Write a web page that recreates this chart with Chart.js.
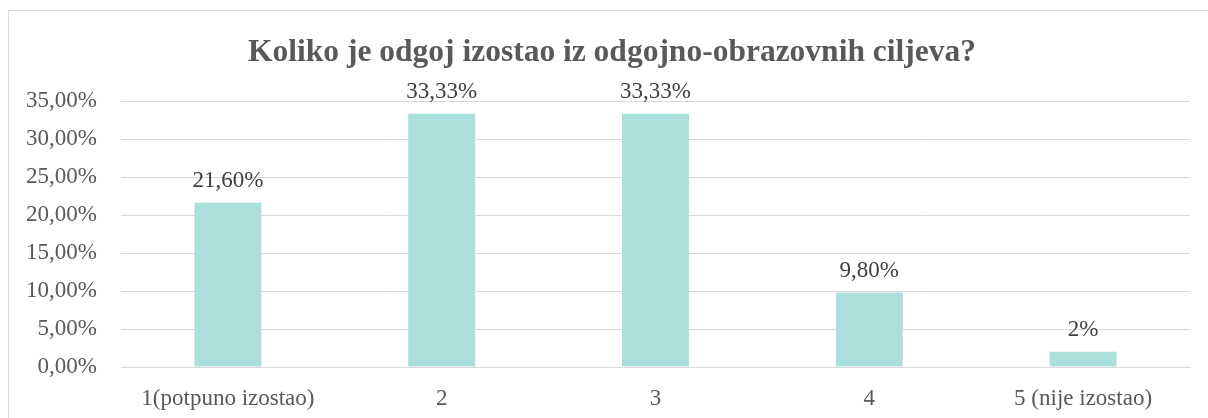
<!DOCTYPE html>
<html>
<head>
<meta charset="utf-8">
<script src="https://cdn.jsdelivr.net/npm/chart.js@4/dist/chart.umd.min.js"></script>
<style>
  html, body { margin: 0; padding: 0; background: #fff; overflow: hidden; }
  #frame {
    position: absolute; left: 8px; top: 10px; width: 1220px; height: 430px;
    border: 1px solid #d9d9d9; box-sizing: border-box;
  }
  #wrap { position: absolute; left: 0; top: 0; width: 1208px; height: 418px; }
</style>
</head>
<body>
<div id="frame"></div>
<div id="wrap"><canvas id="chart"></canvas></div>
<script>
// Koliko je odgoj izostao — data

const titleText = 'Koliko je odgoj izostao iz odgojno-obrazovnih ciljeva?';
const categories = ['1(potpuno izostao)', '2', '3', '4', '5 (nije izostao)'];
const values = [21.6, 33.33, 33.33, 9.8, 2];
const valueLabels = ['21,60%', '33,33%', '33,33%', '9,80%', '2%'];
const yTicks = [0, 5, 10, 15, 20, 25, 30, 35];

const SERIF = '"Liberation Serif", "Times New Roman", serif';

// ─── value labels above bars + title ──────────────────────────────────────

const barLabels = {
  id: 'barLabels',
  afterDatasetsDraw(chart) {
    const ctx = chart.ctx;
    const meta = chart.getDatasetMeta(0);
    ctx.save();
    ctx.font = '23px ' + SERIF;
    ctx.fillStyle = '#404040';
    ctx.textAlign = 'center';
    ctx.textBaseline = 'alphabetic';
    meta.data.forEach((bar, i) => {
      ctx.fillText(valueLabels[i], bar.x, bar.y - 16);
    });

    // title sits a little right of centre, as in the source sheet
    ctx.font = 'bold 31.5px ' + SERIF;
    ctx.fillStyle = '#595959';
    ctx.fillText(titleText, 612, 61);
    ctx.restore();
  },
};

new Chart(document.getElementById('chart'), {
  type: 'bar',
  data: {
    labels: categories,
    datasets: [{
      data: values,
      backgroundColor: '#aadfdc',
      barPercentage: 1,
      categoryPercentage: 0.313,
    }],
  },
  options: {
    responsive: true,
    maintainAspectRatio: false,
    animation: false,
    layout: { padding: { left: 0, right: 18, top: 101, bottom: 0 } },
    plugins: {
      legend: { display: false },
      tooltip: { enabled: false },
      title: { display: false },
    },
    scales: {
      x: {
        grid: { display: false, drawTicks: false },
        border: { display: true, color: '#d9d9d9', width: 1 },
        ticks: { color: '#595959', font: { family: SERIF, size: 23 }, padding: 18, maxRotation: 0 },
        afterFit: s => { s.height = 51; },
      },
      y: {
        min: 0,
        max: 35,
        afterBuildTicks: s => { s.ticks = yTicks.map(v => ({ value: v })); },
        grid: { color: '#d9d9d9', lineWidth: 1, drawTicks: false },
        border: { display: false },
        ticks: {
          color: '#595959',
          font: { family: SERIF, size: 23 },
          padding: 24,
          callback: v => v.toFixed(2).replace('.', ',') + '%',
        },
        afterFit: s => { s.width = 121; },
      },
    },
  },
  plugins: [barLabels],
});
</script>
</body>
</html>
